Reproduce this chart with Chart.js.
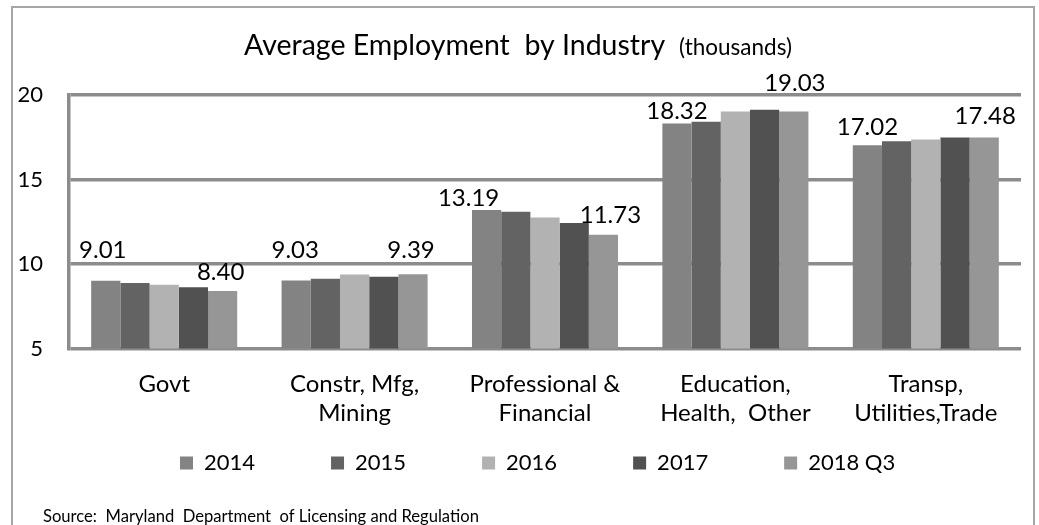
<!DOCTYPE html>
<html><head><meta charset="utf-8">
<script src="https://cdn.jsdelivr.net/npm/chart.js@4.4.1/dist/chart.umd.min.js"></script>
<style>html,body{margin:0;padding:0;background:#fff;overflow:hidden}#wrap{position:relative;width:1039px;height:525px}</style>
</head><body><div id="wrap"><canvas id="c" width="1039" height="525"></canvas></div>
<script>
const categories = [["Govt"], ["Constr, Mfg,", "Mining"], ["Professional &", "Financial"], ["Education,", "Health,  Other"], ["Transp,", "Utilities,Trade"]];
const seriesNames = ["2014", "2015", "2016", "2017", "2018 Q3"];
const values2014 = [9.01, 9.03, 13.19, 18.32, 17.02];
const values2015 = [8.87, 9.12, 13.09, 18.42, 17.27];
const values2016 = [8.77, 9.38, 12.75, 19.03, 17.37];
const values2017 = [8.63, 9.24, 12.43, 19.12, 17.49];
const values2018Q3 = [8.40, 9.39, 11.73, 19.03, 17.48];
const yTickValues = [5, 10, 15, 20];
const titleMain = "Average Employment  by Industry";
const titleSub = "(thousands)";
const sourceText = "Source:  Maryland  Department  of Licensing and Regulation";

const seriesValues = [values2014, values2015, values2016, values2017, values2018Q3];
const seriesColors = ["#838383", "#636363", "#b2b2b2", "#515151", "#969696"];
const FONT = "Lato";
// label placement (dx, dy above bar top) for labelled series
const labelPlacement = {
  0: [[-3, 30], [-1, 30], [-18, 12], [0, 12], [0, 18]],
  4: [[-2, 19], [-2, 24], [7, 19], [1, 28.5], [1, 21]]
};
const LEGEND_PAD = 76;

const frameAndText = {
  id: 'frameAndText',
  afterLayout(chart) {
    const lg = chart.legend;
    if (!lg) return;
    const fs = 22;
    lg.top = 463 - LEGEND_PAD - fs / 2;
    lg.bottom = 525;
    lg.height = lg.bottom - lg.top;
    const w = lg.right - lg.left;
    lg.left = 180 - LEGEND_PAD;
    lg.right = lg.left + w;
  },
  beforeDraw(chart) {
    const ctx = chart.ctx;
    ctx.save();
    ctx.fillStyle = '#fff';
    ctx.fillRect(0, 0, chart.width, chart.height);
    ctx.strokeStyle = '#a6a6a6';
    ctx.lineWidth = 2;
    ctx.strokeRect(12, 7, 1022, 560);
    ctx.fillStyle = '#000';
    ctx.textBaseline = 'alphabetic';
    ctx.textAlign = 'left';
    ctx.font = `28.5px ${FONT}`;
    const wMain = ctx.measureText(titleMain).width;
    ctx.font = `22.5px ${FONT}`;
    const wSub = ctx.measureText(titleSub).width;
    const gap = 14;
    const x0 = 518 - (wMain + gap + wSub) / 2;
    ctx.font = `28.5px ${FONT}`;
    ctx.fillText(titleMain, x0, 55);
    ctx.font = `22.5px ${FONT}`;
    ctx.fillText(titleSub, x0 + wMain + gap, 55);
    ctx.font = `16.6px ${FONT}`;
    ctx.textBaseline = 'middle';
    ctx.fillText(sourceText, 43, 517);
    ctx.restore();
  },
  afterDatasetsDraw(chart) {
    const ctx = chart.ctx;
    ctx.save();
    ctx.fillStyle = '#000';
    ctx.font = `24px ${FONT}`;
    ctx.textAlign = 'center';
    ctx.textBaseline = 'middle';
    Object.keys(labelPlacement).forEach(k => {
      const i = +k;
      const meta = chart.getDatasetMeta(i);
      meta.data.forEach((bar, j) => {
        const [dx, dy] = labelPlacement[i][j];
        ctx.fillText(seriesValues[i][j].toFixed(2), bar.x + dx, bar.y - dy);
      });
    });
    ctx.restore();
  }
};

new Chart(document.getElementById('c'), {
  type: 'bar',
  data: {
    labels: categories,
    datasets: seriesNames.map((n, i) => ({
      label: n,
      data: seriesValues[i],
      backgroundColor: seriesColors[i],
      borderWidth: 0,
      barPercentage: 1,
      categoryPercentage: 0.767
    }))
  },
  options: {
    responsive: false,
    animation: false,
    events: [],
    layout: { padding: { top: 95, left: 12, right: 18, bottom: 68.5 } },
    scales: {
      x: {
        grid: { display: false },
        border: { display: false },
        ticks: { color: '#000', padding: 13, maxRotation: 0, autoSkip: false, font: { family: FONT, size: 24, lineHeight: '29px' } },
        afterFit(s) { s.height = 98; }
      },
      y: {
        min: 5, max: 20,
        afterBuildTicks(s) { s.ticks = yTickValues.map(v => ({ value: v })); },
        grid: { color: '#8c8c8c', lineWidth: 3.5, drawTicks: false },
        border: { display: true, color: '#8c8c8c', width: 3.5 },
        ticks: { color: '#000', padding: 26, font: { family: FONT, size: 22 } },
        afterFit(s) { s.width = 57; }
      }
    },
    plugins: {
      title: { display: false },
      tooltip: { enabled: false },
      legend: {
        position: 'bottom',
        align: 'start',
        maxHeight: 10,
        labels: { color: '#000', boxWidth: 13, boxHeight: 13, padding: LEGEND_PAD, font: { family: FONT, size: 22 } }
      }
    }
  },
  plugins: [frameAndText]
});
</script></body></html>
